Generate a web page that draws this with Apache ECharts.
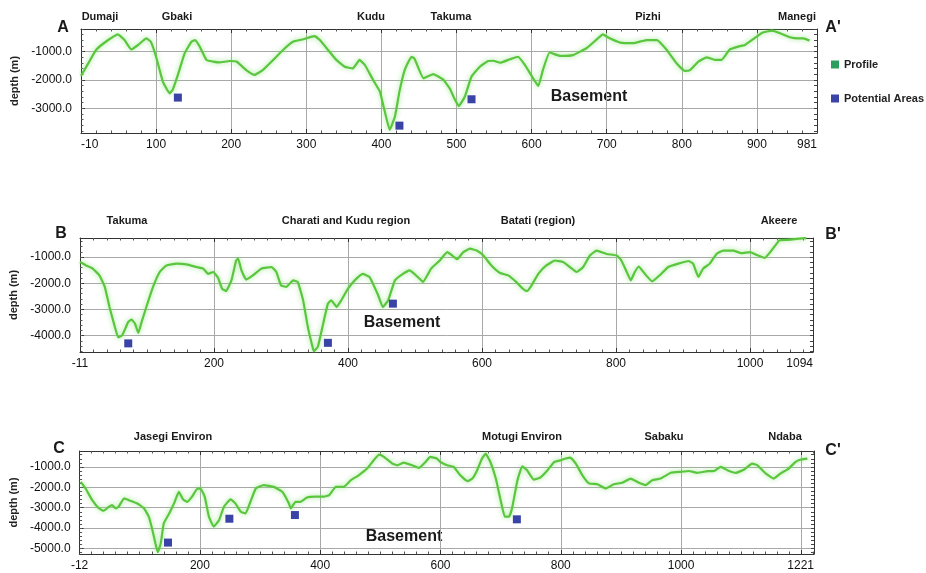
<!DOCTYPE html>
<html><head><meta charset="utf-8">
<script src="https://cdn.jsdelivr.net/npm/echarts@6/dist/echarts.min.js"></script>
<style>html,body{margin:0;padding:0;background:#fff}#c{width:926px;height:573px}</style>
</head><body><div id="c"></div>
<script>
// ---------- Profile A-A' ----------
const distA = [0,11,20,33,49,58,67,76,87,93,100,109,118,122,129,138,147,152,158,167,176,184,198,207,220,231,242,256,269,282,296,311,318,329,340,351,362,371,378,389,398,404,411,418,424,431,440,444,456,469,482,491,498,503,511,520,531,542,549,558,571,582,591,602,609,615,624,638,655,673,687,695,704,718,735,753,767,780,793,804,811,822,833,844,853,864,875,884,895,907,920,931,944,955,962,970];
const depthA = [-1850,-1350,-940,-650,-390,-590,-920,-765,-530,-650,-1180,-2060,-2470,-2350,-1820,-1060,-650,-590,-820,-1290,-1350,-1380,-1330,-1350,-1650,-1820,-1650,-1290,-940,-650,-560,-450,-590,-940,-1290,-1530,-1590,-1290,-1470,-2000,-2410,-3060,-3760,-3290,-2410,-1650,-1180,-1240,-1940,-1790,-1980,-2300,-2700,-2920,-2590,-1880,-1530,-1330,-1320,-1390,-1270,-1180,-1470,-1940,-2210,-1650,-1030,-1150,-1120,-880,-560,-390,-530,-680,-700,-590,-590,-940,-1410,-1680,-1650,-1350,-1200,-1290,-1290,-920,-820,-765,-560,-330,-260,-350,-490,-530,-530,-610];
const potDistA = [129,424,520];
const potDepthA = [-2620,-3610,-2680];
const placesA = ['Dumaji','Gbaki','Kudu','Takuma','Pizhi','Manegi'];
const xLabelsA = ['-10','100','200','300','400','500','600','700','800','900','981'];
const yTicksA = [-3000,-2000,-1000];

// ---------- Profile B-B' ----------
const distB = [0,9,19,29,37,44,52,57,63,72,77,82,87,92,99,109,119,129,144,159,174,184,191,199,206,212,218,226,233,236,241,248,258,271,286,293,300,308,318,325,333,340,347,349,355,363,370,375,383,390,400,410,422,432,445,452,460,470,482,492,507,512,524,537,548,556,563,572,582,592,602,614,627,639,651,661,667,674,684,696,709,721,731,741,751,761,771,786,801,808,816,822,828,834,843,854,865,878,893,908,915,923,930,940,950,960,975,987,1000,1012,1022,1032,1044,1057,1069,1084];
const depthB = [-1190,-1320,-1440,-1700,-2140,-2910,-3670,-4070,-3990,-3480,-3390,-3540,-3900,-3480,-2910,-2140,-1570,-1320,-1250,-1280,-1380,-1440,-1640,-1570,-1790,-2210,-2300,-1890,-1130,-1060,-1510,-1860,-1700,-1440,-1380,-1570,-2080,-2140,-1890,-1950,-2650,-3670,-4430,-4600,-4430,-3540,-2780,-2650,-2910,-2650,-2210,-1890,-1640,-1760,-2460,-2910,-2650,-1890,-1640,-1510,-1830,-1950,-1440,-1130,-810,-950,-1080,-810,-680,-750,-940,-1320,-1610,-1700,-1950,-2210,-2300,-2080,-1640,-1320,-1130,-1190,-1380,-1570,-1380,-940,-750,-880,-940,-1130,-1570,-1890,-1570,-1360,-1640,-1930,-1700,-1380,-1250,-1150,-1250,-1760,-1440,-1250,-880,-750,-750,-850,-810,-940,-1030,-750,-360,-340,-300,-275];
const potDistB = [72,370,467];
const potDepthB = [-4300,-4280,-2780];
const placesB = ['Takuma','Charati and Kudu region','Batati (region)','Akeere'];
const xLabelsB = ['-11','200','400','600','800','1000','1094'];
const yTicksB = [-4000,-3000,-2000,-1000];

// ---------- Profile C-C' ----------
const distC = [2,10,21,32,40,49,54,60,65,74,82,96,107,115,121,126,130,135,140,149,157,165,172,179,187,196,201,208,215,223,232,240,251,259,268,276,284,293,306,323,337,348,351,359,367,378,392,406,415,426,439,451,464,478,489,498,506,520,528,539,553,564,575,583,594,600,611,622,633,645,653,661,669,675,683,692,700,707,714,719,728,736,744,755,766,778,789,800,808,816,825,836,847,861,875,888,902,916,930,941,952,966,983,999,1013,1027,1044,1055,1066,1077,1091,1105,1118,1127,1141,1154,1165,1179,1190,1199,1210];
const depthC = [-1730,-2060,-2630,-3030,-3150,-2950,-2870,-3030,-2950,-2540,-2630,-2790,-3030,-3440,-4090,-4740,-5180,-4740,-3760,-3280,-2790,-2220,-2590,-2710,-2460,-2060,-2060,-2460,-3440,-3930,-3600,-2950,-2590,-2790,-3200,-3280,-2710,-2060,-1890,-1980,-2220,-2790,-3030,-2710,-2710,-2500,-2460,-2460,-2380,-1980,-1980,-1650,-1410,-1080,-670,-400,-510,-840,-920,-790,-920,-1050,-760,-510,-590,-760,-920,-1000,-1410,-1700,-1570,-1160,-590,-350,-760,-1570,-2630,-3440,-3440,-3030,-1650,-970,-1160,-1620,-1520,-1160,-760,-670,-590,-540,-840,-1410,-1810,-1850,-2060,-1850,-1780,-1570,-1780,-1890,-1650,-1570,-1290,-1240,-1200,-1290,-1210,-1200,-1000,-1160,-1290,-1130,-840,-920,-1330,-1570,-1330,-1080,-760,-640,-590];
const potDistC = [147,249,358,727];
const potDepthC = [-4710,-3540,-3360,-3570];
const placesC = ['Jasegi Environ','Motugi Environ','Sabaku','Ndaba'];
const xLabelsC = ['-12','200','400','600','800','1000','1221'];
const yTicksC = [-5000,-4000,-3000,-2000,-1000];

const legendNames = ['Profile','Potential Areas'];
const basementLabel = 'Basement';
const depthName = 'depth (m)';

const FONT = 'Arial, "Liberation Sans", sans-serif';
const LINE_GREEN = '#5ac63e';
const LEG_GREEN = '#2e9e5f';
const BLUE = '#3a44a6';

const panels = [
  {grid:{left:81, top:29, width:736, height:104}, xMax:980, xInt:100, yMin:-3870, yMax:-200,
   dist:distA, depth:depthA, pd:potDistA, pv:potDepthA, xl:xLabelsA, yt:yTicksA, minAlignLeft:true},
  {grid:{left:80, top:238, width:733, height:114}, xMax:1094, xInt:200, yMin:-4630, yMax:-270,
   dist:distB, depth:depthB, pd:potDistB, pv:potDepthB, xl:xLabelsB, yt:yTicksB, minAlignLeft:false},
  {grid:{left:79, top:451, width:735, height:103}, xMax:1221, xInt:200, yMin:-5270, yMax:-220,
   dist:distC, depth:depthC, pd:potDistC, pv:potDepthC, xl:xLabelsC, yt:yTicksC, minAlignLeft:false}
];

function minorVals(lo, hi, step){
  const out=[]; for(let v=Math.ceil(lo/step)*step; v<=hi; v+=step) out.push(v); return out;
}

const grids=[], xAxes=[], yAxes=[], series=[];
panels.forEach((p,i)=>{
  grids.push(p.grid);
  const fmt = v => {
    if (v === 0) return p.xl[0];
    if (v === p.xMax) return p.xl[p.xl.length-1];
    return p.xl.indexOf(String(v)) >= 0 ? String(v) : '';
  };
  const frame = {show:true, lineStyle:{color:'#333', width:1}};
  xAxes.push({gridIndex:i, type:'value', min:0, max:p.xMax, interval:p.xInt, position:'bottom',
    axisLine:frame, axisTick:{show:true, inside:true, length:4, lineStyle:{color:'#333'}},
    minorTick:{show:true, splitNumber:p.xInt/20, length:2.5, lineStyle:{color:'#555'}},
    splitLine:{show:true, lineStyle:{color:'#a8a8a8', width:1}},
    axisLabel:{formatter:fmt, fontFamily:FONT, fontSize:12, color:'#111', margin:6,
      showMinLabel:true, showMaxLabel:true, alignMaxLabel:'right', alignMinLabel: p.minAlignLeft ? 'left':'center'}});
  xAxes.push({gridIndex:i, type:'value', min:0, max:p.xMax, interval:p.xInt, position:'top',
    axisLine:frame, axisTick:{show:true, inside:true, length:4, lineStyle:{color:'#333'}},
    minorTick:{show:true, splitNumber:p.xInt/20, length:2.5, lineStyle:{color:'#555'}},
    splitLine:{show:false}, axisLabel:{show:false}});
  const yBase = 3*i;
  yAxes.push({gridIndex:i, type:'value', min:p.yMin, max:p.yMax, position:'left',
    name:depthName, nameLocation:'middle', nameGap:58, nameRotate:90,
    nameTextStyle:{fontFamily:FONT, fontSize:11, fontWeight:'bold', color:'#222'},
    axisLine:frame, axisTick:{show:true, inside:true, length:4, customValues:p.yt, lineStyle:{color:'#333'}},
    splitLine:{show:true, lineStyle:{color:'#a8a8a8', width:1}},
    axisLabel:{customValues:p.yt, formatter:v=>v.toFixed(1), fontFamily:FONT, fontSize:12, color:'#111', margin:9}});
  yAxes.push({gridIndex:i, type:'value', min:p.yMin, max:p.yMax, position:'left', offset:0,
    axisLine:{show:false}, axisTick:{show:true, inside:true, length:2.5, customValues:minorVals(p.yMin,p.yMax,200), lineStyle:{color:'#555'}},
    splitLine:{show:false}, axisLabel:{show:false}});
  yAxes.push({gridIndex:i, type:'value', min:p.yMin, max:p.yMax, position:'right',
    axisLine:frame, axisTick:{show:true, inside:true, length:3, customValues:minorVals(p.yMin,p.yMax,200), lineStyle:{color:'#444'}},
    splitLine:{show:false}, axisLabel:{show:false}});
  series.push({name:legendNames[0], type:'line', xAxisIndex:2*i, yAxisIndex:yBase,
    data:p.dist.map((d,k)=>[d,p.depth[k]]), showSymbol:false, smooth:0.12,
    itemStyle:{color:LEG_GREEN},
    lineStyle:{color:LINE_GREEN, width:2.2, shadowColor:'rgba(130,225,110,0.8)', shadowBlur:5},
    z:3, animation:false});
  series.push({name:legendNames[1], type:'scatter', xAxisIndex:2*i, yAxisIndex:yBase,
    data:p.pd.map((d,k)=>[d,p.pv[k]]), symbol:'rect', symbolSize:8,
    itemStyle:{color:BLUE, opacity:1}, z:4, animation:false});
});

function txt(text, x, y, size, align){
  return {type:'text', x:x, y:y, style:{text:text, fontFamily:FONT, fontSize:size, fontWeight:'bold',
    fill:'#1a1a1a', align:align||'center', verticalAlign:'middle'}};
}
const placeX = [[100,177,371,451,648,797],[127,346,538,779],[173,522,664,785]];
const placeY = [17,221,437];
const places = [placesA, placesB, placesC];
const graphics = [];
places.forEach((arr,i)=>arr.forEach((t,k)=>graphics.push(txt(t, placeX[i][k], placeY[i], 11))));
graphics.push(txt('A',63,28,16), txt("A'",833,28,16));
graphics.push(txt('B',61,234,16), txt("B'",833,235,16));
graphics.push(txt('C',59,449,16), txt("C'",833,451,16));
graphics.push(txt(basementLabel,589,97,16), txt(basementLabel,402,323,16), txt(basementLabel,404,537,16));

const chart = echarts.init(document.getElementById('c'), null, {renderer:'canvas'});
chart.setOption({
  animation:false,
  backgroundColor:'#fff',
  grid:grids, xAxis:xAxes, yAxis:yAxes, series:series,
  legend:{orient:'vertical', left:826, top:54, itemGap:23, itemWidth:8, itemHeight:8, icon:'rect',
    data:[{name:legendNames[0], itemStyle:{color:LEG_GREEN}}, {name:legendNames[1], itemStyle:{color:BLUE}}],
    textStyle:{fontFamily:FONT, fontSize:11, fontWeight:'bold', color:'#222'}},
  graphic:graphics
});
</script></body></html>
